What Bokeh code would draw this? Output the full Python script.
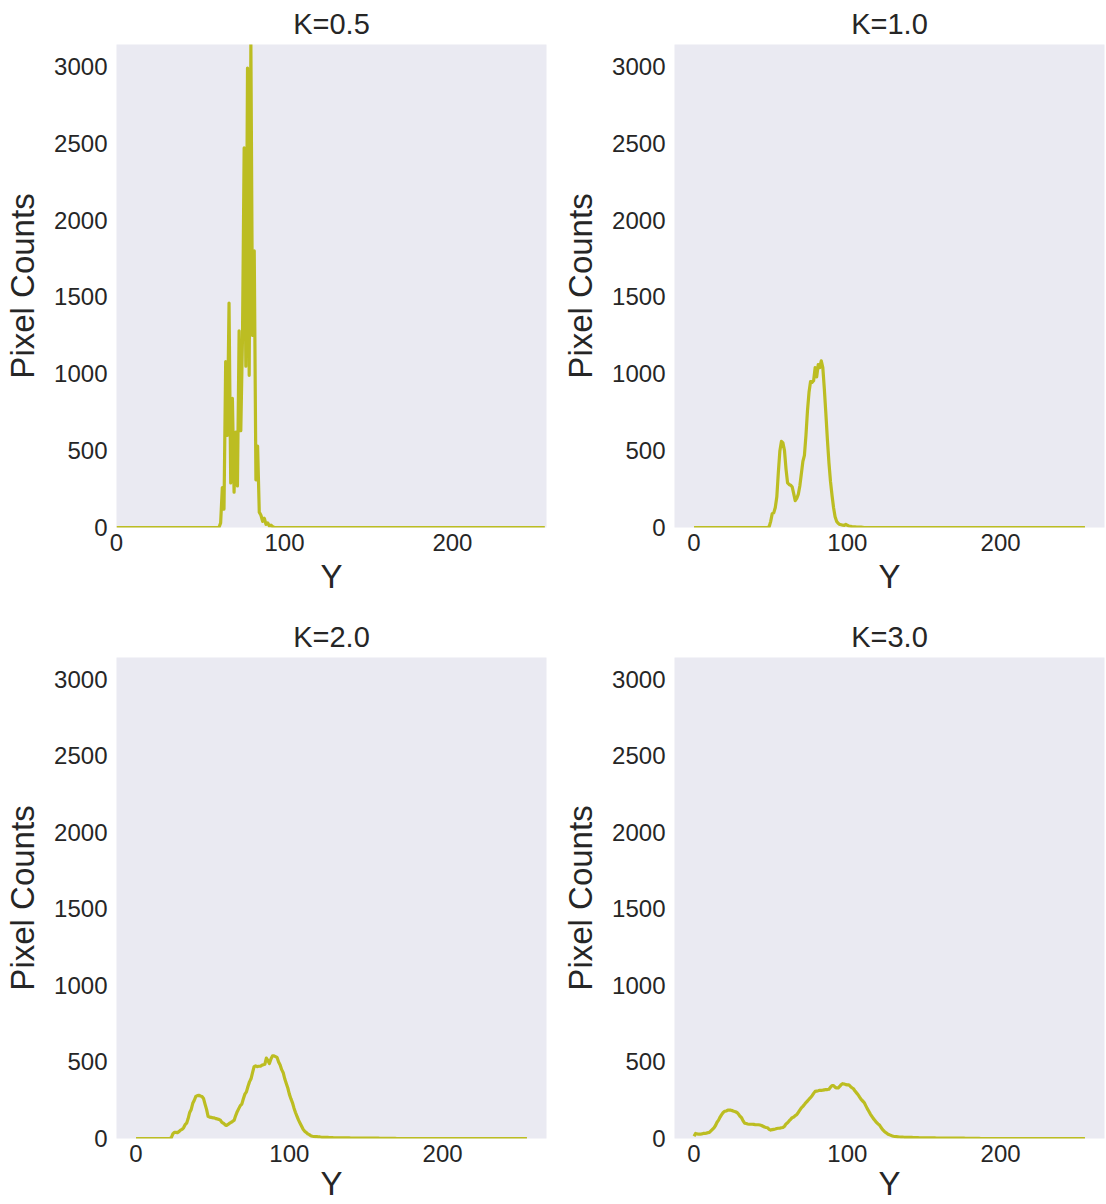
import numpy as np
from bokeh.plotting import figure
from bokeh.layouts import column, row
from bokeh.models import Range1d, FixedTicker
from bokeh.embed import file_html
from bokeh.resources import INLINE

# ---------------- data (histogram counts per Y level, 0..255) ----------------
titles = ["K=0.5", "K=1.0", "K=2.0", "K=3.0"]
y_ticks = [0, 500, 1000, 1500, 2000, 2500, 3000]
x_ticks = [0, 100, 200]

k05_start = 62
k05_counts = [30, 260, 120, 1080, 600, 1460, 290, 840, 230, 620, 270, 1280, 630,
              1230, 2470, 1050, 2990, 990, 3143, 1250, 1800, 310, 530, 100, 80,
              40, 60, 20, 30, 10, 15, 5]

k10_start = 48
k10_counts = [0, 5, 40, 90, 95, 130, 200, 360, 500, 560, 550, 500, 380, 290, 280,
              275, 265, 220, 175, 190, 215, 270, 350, 430, 470, 600, 760, 880,
              950, 945, 955, 1040, 980, 1060, 1040, 1085, 1040, 900, 740, 570,
              420, 300, 210, 130, 70, 40, 28, 20, 18, 15, 14, 20, 14, 10, 8, 6,
              5, 4, 3, 3, 2, 2, 1]

k20_start = 22
k20_counts = [0, 5, 30, 40, 40, 38, 45, 55, 60, 70, 90, 100, 130, 170, 190, 230,
              250, 275, 280, 282, 278, 275, 262, 225, 190, 145, 140, 138, 135,
              135, 130, 128, 125, 120, 105, 100, 90, 85, 92, 100, 105, 112, 120,
              150, 175, 195, 215, 225, 260, 290, 305, 340, 370, 390, 430, 470,
              475, 470, 472, 472, 478, 482, 485, 525, 510, 490, 520, 540, 540,
              535, 530, 500, 480, 450, 430, 390, 360, 330, 290, 260, 235, 200,
              170, 145, 120, 100, 80, 60, 48, 40, 30, 25, 18, 15, 13, 12, 12, 10,
              10, 8, 8, 7, 7, 7, 6, 6, 6, 5, 5, 5, 5, 4, 4, 4, 4, 4, 4, 4, 3, 3,
              3, 3, 3, 3, 3, 3, 3, 2, 2, 2, 2, 2, 2, 2, 2, 2, 2, 1, 1, 1, 1, 1, 1,
              1, 1, 1, 1, 1]

k30_start = 0
k30_counts = [15, 33, 30, 28, 28, 30, 33, 33, 35, 38, 40, 50, 60, 70, 85, 106, 120,
              140, 156, 170, 178, 180, 185, 185, 185, 182, 178, 175, 170, 160,
              145, 136, 115, 100, 98, 95, 93, 93, 93, 92, 90, 90, 90, 88, 85, 80,
              75, 72, 70, 60, 55, 58, 60, 62, 65, 67, 68, 70, 72, 80, 95, 103,
              115, 125, 136, 140, 150, 156, 170, 185, 200, 210, 222, 235, 245,
              257, 267, 280, 295, 308, 310, 312, 315, 315, 316, 318, 320, 320,
              322, 335, 345, 345, 335, 330, 330, 340, 352, 358, 356, 352, 350,
              350, 340, 332, 325, 310, 298, 286, 270, 255, 245, 235, 215, 195,
              178, 160, 145, 130, 118, 105, 95, 88, 72, 58, 48, 40, 32, 26, 22,
              18, 15, 13, 12, 11, 10, 9, 9, 8, 8, 8, 7, 7, 7, 6, 6, 6, 6, 5, 5, 5,
              5, 4, 4, 4, 4, 4, 4, 4, 3, 3, 3, 3, 3, 3, 3, 3, 3, 2, 2, 2, 2, 2, 2,
              2, 2, 2, 2, 1, 1, 1, 1, 1, 1, 1, 1, 1, 1]

series = [(k05_start, k05_counts), (k10_start, k10_counts),
          (k20_start, k20_counts), (k30_start, k30_counts)]

LINE = "#bcbd22"
BG = "#EAEAF2"
TXT = "#262626"
FONT = "Liberation Sans"
Y_MAX = 3143


def full_hist(start, vals):
    h = np.zeros(256)
    h[start:start + len(vals)] = vals
    return h


def make(idx):
    start, vals = series[idx]
    col = idx % 2
    rw = idx // 2
    if idx == 0:
        xr = Range1d(0, 256)
    else:
        xr = Range1d(-12.75, 267.75)
    p = figure(width=553, height=613 if rw == 0 else 591,
               x_range=xr, y_range=Range1d(0, Y_MAX),
               output_backend="svg", toolbar_location=None,
               min_border_left=116 if col == 0 else 121,
               min_border_right=7 if col == 0 else 2,
               min_border_top=44,
               min_border_bottom=86 if rw == 0 else 65,
               background_fill_color=BG, border_fill_color="white",
               outline_line_color=None)
    p.xgrid.visible = False
    p.ygrid.visible = False
    x = np.arange(256)
    p.line(x, full_hist(start, vals), line_color=LINE, line_width=3.2,
           line_join="round")
    p.title.text = titles[idx]
    p.title.align = "center"
    p.title.text_font = FONT
    p.title.text_font_size = "29px"
    p.title.text_font_style = "normal"
    p.title.text_color = TXT
    p.xaxis.axis_label = "Y"
    p.yaxis.axis_label = "Pixel Counts"
    p.xaxis.ticker = FixedTicker(ticks=x_ticks)
    p.yaxis.ticker = FixedTicker(ticks=y_ticks)
    for ax in (p.xaxis[0], p.yaxis[0]):
        ax.axis_line_color = None
        ax.major_tick_line_color = None
        ax.minor_tick_line_color = None
        ax.major_tick_out = 0
        ax.major_tick_in = 0
        ax.minor_tick_out = 0
        ax.minor_tick_in = 0
        ax.major_label_text_font = FONT
        ax.major_label_text_font_size = "24px"
        ax.major_label_text_color = TXT
        ax.axis_label_text_font = FONT
        ax.axis_label_text_font_size = "33px"
        ax.axis_label_text_font_style = "normal"
        ax.axis_label_text_color = TXT
    p.xaxis.major_label_standoff = 6
    p.xaxis.axis_label_standoff = 0 if rw == 1 else 4
    p.yaxis.major_label_standoff = 9
    p.yaxis.axis_label_standoff = 10
    return p


plots = [make(i) for i in range(4)]
layout = column(row(plots[0], plots[1]), row(plots[2], plots[3]))

open("out.html", "w").write(file_html(layout, INLINE))
